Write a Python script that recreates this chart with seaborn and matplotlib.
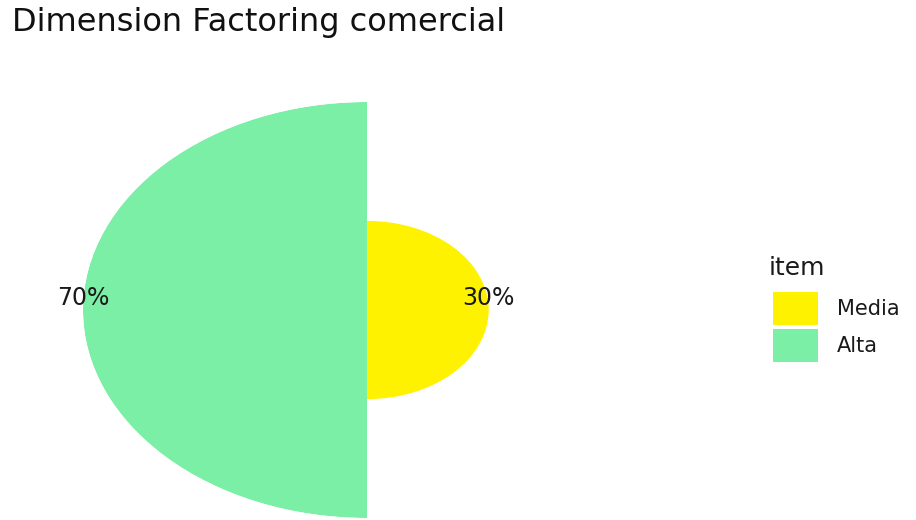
import numpy as np
import matplotlib
matplotlib.use("Agg")
import matplotlib.pyplot as plt
from matplotlib.patches import Patch
import matplotlib.transforms as mtransforms
import seaborn as sns

# data
items = ["Media", "Alta"]
values = [30, 70]
pct_labels = ["30%", "70%"]
colors = ["#FFF200", "#7CEFA6"]

sns.set_theme(style="white")
plt.rcParams["font.family"] = ["DejaVu Sans"]

fig = plt.figure(figsize=(9.16, 5.2), dpi=100)

# polar "bar" chart, each item takes half the circle, radius = value
ax = fig.add_axes([83 / 916, 2 / 520, 568 / 916, 416 / 520], projection="polar")
ax.set_aspect("auto")
ax.set_theta_zero_location("N")
ax.set_theta_direction(-1)

n = len(items)
width = 2 * np.pi / n
theta = (np.arange(n) + 0.5) * width
ax.bar(theta, values, width=width, color=colors, edgecolor="none", align="center")
ax.set_ylim(0, max(values))

# labels sit slightly above the centre line, like in the original
shift = mtransforms.offset_copy(ax.transData, fig=fig, x=0, y=12, units="dots")
for t, v, lab in zip(theta, values, pct_labels):
    ax.text(t, v, lab, ha="center", va="center", fontsize=17,
            color="#1a1a1a", transform=shift)

ax.axis("off")

fig.text(12 / 916, 1 - 22 / 520, "Dimension Factoring comercial",
         fontsize=23, va="center", ha="left", color="#111111")

# legend: title as separate text so the gap to the keys matches
fig.text(769 / 916, 1 - 268 / 520, "item", fontsize=18, va="center",
         ha="left", color="#1a1a1a")
handles = [Patch(facecolor=c, edgecolor="none") for c in colors]
leg = fig.legend(handles, items, loc="upper left",
                 bbox_to_anchor=(773 / 916, 1 - 292 / 520), frameon=False,
                 borderpad=0, borderaxespad=0,
                 fontsize=15, handlelength=2.15,
                 handleheight=2.05, labelspacing=0.2, handletextpad=0.9)
for t in leg.get_texts():
    t.set_color("#1a1a1a")

fig.savefig("out.png", dpi=100)
